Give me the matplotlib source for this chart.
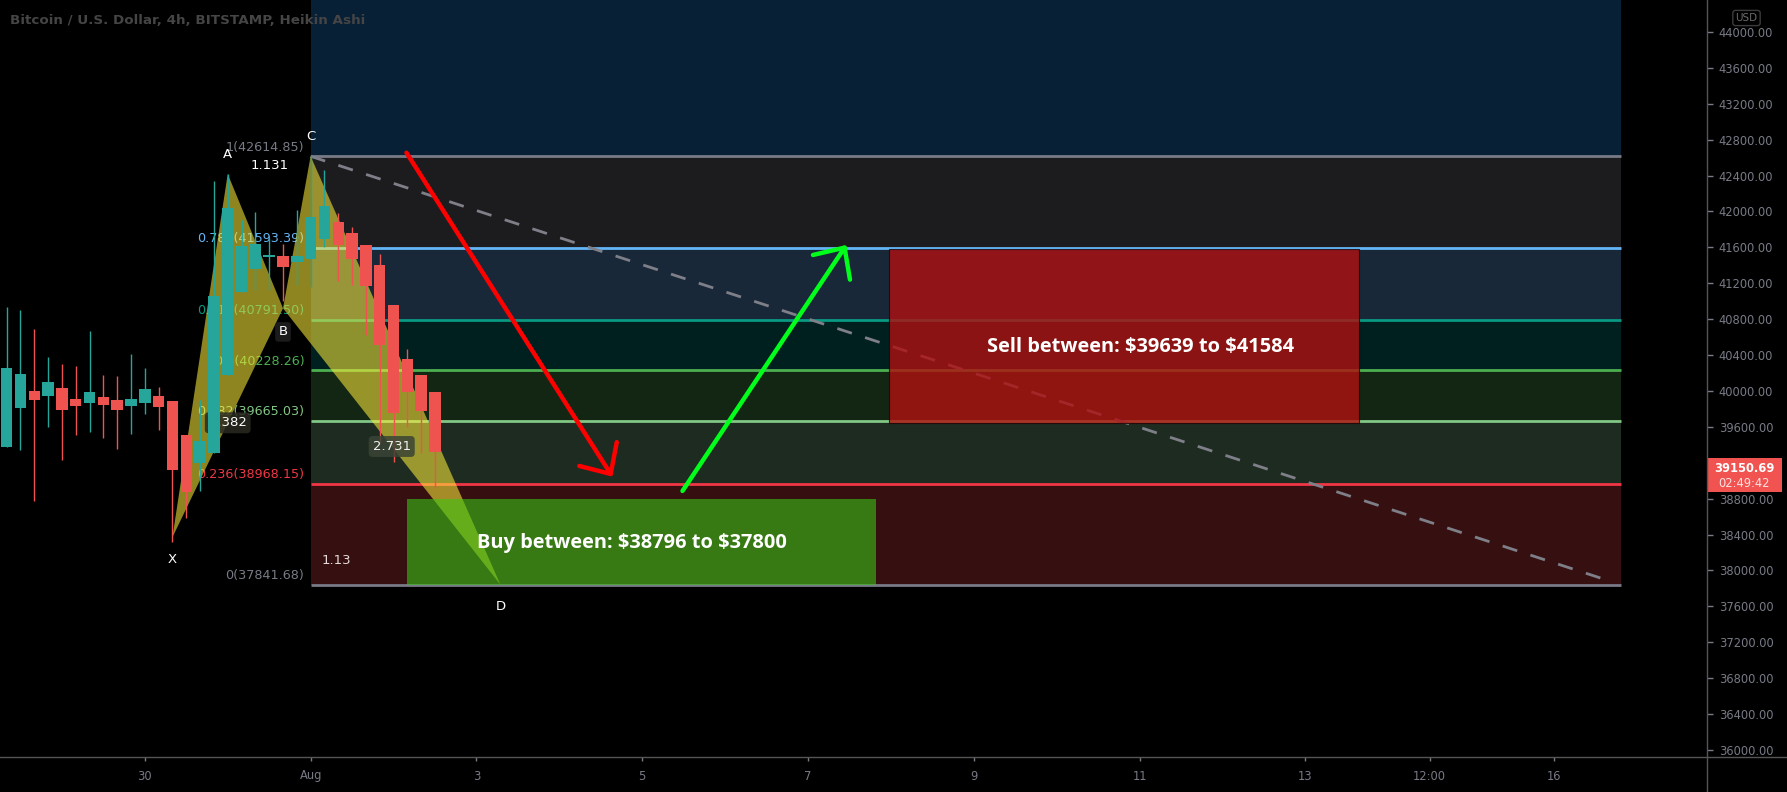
import numpy as np
import matplotlib
matplotlib.use("Agg")
import matplotlib.pyplot as plt
from matplotlib.patches import Rectangle, Polygon
from matplotlib.lines import Line2D
from matplotlib.transforms import IdentityTransform

plt.rcParams["font.family"] = ["DejaVu Sans"]

# ---- Heikin Ashi 4h candles (bar index relative to Aug 1 00:00) ----
bar_index = list(range(-22, 10))
ha_open = [39379, 39814, 40000, 39948, 40033, 39911, 39866, 39933, 39900, 39836, 39866,
           39944, 39889, 39510, 39194, 39312, 40178, 41106, 41359, 41490, 41504, 41441,
           41467, 41690, 41883, 41760, 41627, 41404, 40958, 40353, 40178, 39989]
ha_close = [40253, 40186, 39900, 40100, 39788, 39836, 39989, 39847, 39788, 39911, 40022,
            39825, 39120, 38878, 39443, 41058, 42036, 41619, 41638, 41515, 41385, 41504,
            41935, 42061, 41627, 41471, 41173, 40513, 39752, 39992, 39777, 39324]
ha_high = [40933, 40902, 40691, 40379, 40301, 40279, 40672, 40178, 40167, 40412, 40256,
           40045, 39889, 39510, 39900, 42340, 42418, 41905, 41998, 41705, 41634, 42017,
           42615, 42462, 41980, 41824, 41627, 41526, 40958, 40468, 40178, 39989]
ha_low = [39379, 39343, 38778, 39602, 39231, 39510, 39543, 39480, 39354, 39521, 39744,
          39565, 38321, 38588, 38889, 39312, 40178, 41106, 41125, 41125, 41006, 41181,
          41162, 41608, 41226, 41181, 40624, 39424, 39212, 39602, 39306, 38916]

# ---- fib retracement ----
fib_levels = ["0", "0.236", "0.382", "0.5", "0.618", "0.786", "1"]
fib_prices = [37841.68, 38968.15, 39665.03, 40228.26, 40791.50, 41593.39, 42614.85]
fib_colors = ["#787b86", "#f23645", "#81c784", "#4caf50", "#089981", "#64b5f6", "#787b86"]
fib_fills = ["#361010", "#1e2b20", "#132613", "#001f1f", "#182838", "#1c1c1e", "#072036"]
fib_start, fib_end = 0.0, 15.81

# ---- XABCD pattern (x in days from Aug 1) ----
pattern_names = ["X", "A", "B", "C", "D"]
pattern_day = [-1.667, -1.0, -0.333, 0.0, 2.29]
pattern_price = [38370, 42418, 40921, 42615, 37842]

# ---- other drawings ----
trend_day = [0.0, 15.67]
trend_price = [42614.85, 37883]
red_arrow = [(1.156, 42655), (3.641, 39045)]
green_arrow = [(4.486, 38886), (6.463, 41627)]
buy_zone = (1.163, 6.818, 37841.68, 38796)
sell_zone = (6.978, 12.647, 39639, 41584)
buy_text = "Buy between: $38796 to $37800"
sell_text = "Sell between: $39639 to $41584"
last_price = 39150.69
countdown = "02:49:42"

x_ticks = [-2, 0, 2, 4, 6, 8, 10, 12, 13.5, 15]
x_labels = ["30", "Aug", "3", "5", "7", "9", "11", "13", "12:00", "16"]
y_ticks = np.arange(36000, 44001, 400)

W, H = 1787, 792
fig = plt.figure(figsize=(W / 100, H / 100), dpi=100, facecolor="black")
ax = fig.add_axes([0, 35 / H, 1707 / W, 757 / H])
ax.set_facecolor("black")
ax.set_xlim(-3.747, 16.845)
ax.set_ylim(35922, 44356)
for s in ax.spines.values():
    s.set_visible(False)

# fib background bands and lines
tops = fib_prices[1:] + [ax.get_ylim()[1]]
for lo, hi, col in zip(fib_prices, tops, fib_fills):
    ax.fill_between([fib_start, fib_end], lo, hi, color=col, lw=0, zorder=1)
ax.hlines(fib_prices, fib_start, fib_end, colors=fib_colors, lw=2, zorder=2)
for lvl, p, c in zip(fib_levels, fib_prices, fib_colors):
    ax.annotate(f"{lvl}({p:.2f})", xy=(fib_start, p), xytext=(-4.5, 2),
                textcoords="offset points", ha="right", va="bottom",
                color=c, fontsize=9.2, zorder=2.1)

# trend line
ax.plot(trend_day, trend_price, color="#7e7f88", lw=2, ls=(0, (5.5, 5)), zorder=2.2)

# harmonic pattern triangles
pts = list(zip(pattern_day, pattern_price))
for tri in (pts[0:3], pts[2:5]):
    ax.add_patch(Polygon(tri, closed=True, fc="#ffee3b", alpha=0.56, lw=0, zorder=2.5))

# zones
bx0, bx1, by0, by1 = buy_zone
ax.add_patch(Rectangle((bx0, by0), bx1 - bx0, by1 - by0, fc="#38c614", alpha=0.58,
                       lw=0, zorder=3))
ax.text((bx0 + bx1) / 2 - 0.12, (by0 + by1) / 2 - 10, buy_text, parse_math=False,
        ha="center", va="center", color="white", fontsize=14.4, fontweight="bold",
        family="Open Sans", zorder=6)
sx0, sx1, sy0, sy1 = sell_zone
ax.add_patch(Rectangle((sx0, sy0), sx1 - sx0, sy1 - sy0, fc="#b01010", alpha=0.8,
                       ec="#1a0505", lw=0.8, zorder=3))
ax.text((sx0 + sx1) / 2 + 0.2, (sy0 + sy1) / 2 - 120, sell_text, parse_math=False,
        ha="center", va="center", color="white", fontsize=14.4, fontweight="bold",
        family="Open Sans", zorder=6)

# candles
days = np.array(bar_index) / 6.0
o = np.array(ha_open)
c = np.array(ha_close)
cols = np.where(c >= o, "#26a69a", "#ef5350")
ax.vlines(days, ha_low, ha_high, colors=cols, lw=1, zorder=4)
ax.bar(days, np.maximum(np.abs(c - o), 12), bottom=np.minimum(o, c), width=0.138,
       color=cols, lw=0, zorder=4)

# arrows
for (start, end), col in ((red_arrow, "#ff0000"), (green_arrow, "#00ff1a")):
    ax.annotate("", xy=end, xytext=start,
                arrowprops=dict(arrowstyle="->,head_length=1.7,head_width=1.6",
                                color=col, lw=3.2, shrinkA=0, shrinkB=0,
                                mutation_scale=10),
                zorder=5)

# pattern point labels
offs = {"X": -16, "A": 14, "B": -17, "C": 14, "D": -16}
for name, d, p in zip(pattern_names, pattern_day, pattern_price):
    kw = {}
    if name == "B":
        kw["bbox"] = dict(boxstyle="round,pad=0.25", fc="#222222", ec="none", alpha=0.8)
    ax.annotate(name, xy=(d, p), xytext=(0, offs[name]), textcoords="offset points",
                ha="center", va="center", color="white", fontsize=9.5, zorder=6, **kw)

# ratio labels at leg midpoints
def mid(i, j):
    return ((pattern_day[i] + pattern_day[j]) / 2, (pattern_price[i] + pattern_price[j]) / 2)

ratio_labels = [("1.131", 1, 3, None, "white"),
                ("0.382", 0, 2, "#2a2a22", "white"),
                ("2.731", 2, 4, "#3a4436", "#f0f0f0"),
                ("1.13", 0, 4, None, "#e6d9d9")]
for txt, i, j, bg, tc in ratio_labels:
    kw = {}
    if bg:
        kw["bbox"] = dict(boxstyle="round,pad=0.3", fc=bg, ec="none", alpha=0.85)
    ax.text(*mid(i, j), txt, ha="center", va="center", color=tc, fontsize=9.5,
            zorder=3.8 if txt == "0.382" else 6, **kw)

# axes ticks (the label under the last-price badge is hidden, as in the chart)
ax.yaxis.tick_right()
ax.set_yticks(y_ticks)
ax.set_yticklabels(["" if abs(v - last_price) < 200 else f"{v:.2f}" for v in y_ticks])
ax.set_xticks(x_ticks)
ax.set_xticklabels(x_labels)
ax.tick_params(axis="y", colors="#787b86", labelsize=8.3, length=4.5, width=1, pad=4)
ax.tick_params(axis="x", colors="#787b86", labelsize=8.3, length=3, width=1, pad=6)

fig.add_artist(Line2D([0, 1], [35 / H, 35 / H], transform=fig.transFigure,
                      color="#555555", lw=1))
fig.add_artist(Line2D([1707 / W, 1707 / W], [0, 1], transform=fig.transFigure,
                      color="#555555", lw=1))

# title and USD badge
fig.text(10.5 / W, 1 - 20.5 / H, "Bitcoin / U.S. Dollar, 4h, BITSTAMP, Heikin Ashi",
         ha="left", va="center", color="#454545", fontsize=9.7, fontweight="bold")
fig.text(1746.5 / W, 1 - 18 / H, "USD", ha="center", va="center", color="#6a6a6a",
         fontsize=7.5, bbox=dict(boxstyle="round,pad=0.25", fc="black", ec="#3c3c3c", lw=1))

# last price label
py = ax.transData.transform((0, last_price))[1]
fig.add_artist(Rectangle((1707, py - 25), 75, 34, transform=IdentityTransform(),
                         fc="#f05350", ec="none"))
fig.text(1744, py - 1, f"{last_price:.2f}", transform=IdentityTransform(), ha="center",
         va="center", color="white", fontsize=8.3, fontweight="bold")
fig.text(1744, py - 16, countdown, transform=IdentityTransform(), ha="center",
         va="center", color="#fbe3e3", fontsize=8.3)

fig.savefig("out.png", dpi=100, facecolor="black")
